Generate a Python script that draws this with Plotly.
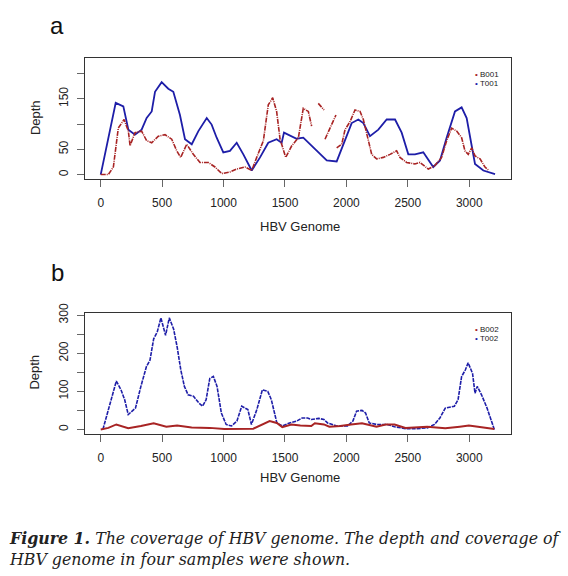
import plotly.graph_objects as go

# ---------------- data ----------------
series_names_a = ["B001", "T001"]
series_names_b = ["B002", "T002"]

T001_x = [0,122,184,225,279,333,374,415,442,496,550,591,645,686,741,795,863,903,944,998,
          1052,1107,1161,1229,1297,1364,1432,1473,1492,1541,1595,1649,1717,1785,1840,1921,1975,2043,2097,2138,
          2192,2260,2328,2396,2450,2504,2558,2626,2707,2762,2816,2884,2938,2979,3020,3047,3115,3210]
T001_y = [0,142,135,89,79,89,112,125,164,183,170,164,118,70,60,86,112,99,73,44,
          47,63,40,8,34,63,70,63,83,78,71,73,57,40,28,26,60,102,109,102,
          76,89,109,109,83,40,40,44,15,28,73,125,133,112,57,21,8,1]

B001_x = [0,62,103,143,190,225,239,279,333,374,415,469,523,578,619,651,700,754,808,876,
          930,985,1052,1107,1175,1229,1270,1324,1364,1400,1432,1460,1506,1555,1609,1649,1690,1717,
          1745,
          1771,1818,
          1822,
          1826,1915,
          1918,
          1921,1962,1989,2030,2070,2111,2138,2165,2206,2246,2300,2355,2409,2436,2490,2558,2599,2667,2721,2775,
          2816,2857,2898,2938,2965,2992,3020,3047,3088,3128,3160]
B001_y = [0,0,15,92,109,86,57,83,86,67,63,76,79,70,47,34,60,40,24,24,
          15,2,5,11,15,8,34,67,138,152,125,70,34,57,73,131,125,96,
          None,
          141,128,
          None,
          70,118,
          None,
          53,60,89,105,128,125,109,79,40,31,34,40,47,34,24,21,24,11,18,34,
          67,92,86,73,47,40,53,37,31,15,8]

T002_x = [18,62,127,165,195,224,283,327,372,401,431,460,490,528,558,593,622,652,681,711,
          755,800,829,858,888,917,947,982,1021,1065,1109,1148,1198,1227,1271,1316,1360,1389,1434,1478,
          1537,1596,1640,1684,1714,1773,1817,1847,1920,2009,2053,2083,2127,2156,2186,2245,2333,2392,2481,2569,
          2658,2717,2761,2805,2879,2909,2938,2968,2991,3027,3047,3065,3100,3145,3204]
T002_y = [0,52,127,104,78,39,56,113,165,182,238,256,293,247,293,264,217,156,113,91,
          87,69,61,78,134,139,113,43,13,9,22,61,52,13,52,104,100,78,17,9,
          17,22,30,30,26,29,26,17,9,9,22,48,50,43,17,13,13,7,2,2,
          4,13,30,56,61,78,139,156,175,147,95,113,91,56,0]

B002_x = [0,62,127,224,327,431,534,622,740,888,1006,1242,1375,1434,1478,1552,1625,1714,1743,1817,
          1861,1950,2038,2127,2245,2319,2392,2481,2658,2805,2923,2997,3071,3204]
B002_y = [0,4,13,3,9,16,7,10,5,4,1,2,22,17,6,13,10,9,16,13,
          7,9,13,16,7,13,13,4,7,3,7,10,7,1]

x_ticks = [0, 500, 1000, 1500, 2000, 2500, 3000]
ya_ticks = [0, 50, 100, 150, 200]
ya_labels = ["0", "50", "", "150", ""]
yb_ticks = [0, 50, 100, 150, 200, 250, 300]
yb_labels = ["0", "", "100", "", "200", "", "300"]

panel_labels = ["a", "b"]
x_title = "HBV Genome"
y_title = "Depth"
caption_1 = "<b>Figure 1.</b> The coverage of HBV genome. The depth and coverage of"
caption_2 = "HBV genome in four samples were shown."

# ---------------- style ----------------
RED = "#A82424"
BLUE = "#1E1EA8"
W, H = 568, 576
SANS = "Liberation Sans, Arial, sans-serif"


def px(x):
    return x / W


def py(y):
    return 1 - y / H


fig = go.Figure()
fig.add_trace(go.Scatter(x=T001_x, y=T001_y, mode="lines", name=series_names_a[1],
                         line=dict(color=BLUE, width=1.8), xaxis="x", yaxis="y", showlegend=False,
                         connectgaps=False))
fig.add_trace(go.Scatter(x=B001_x, y=B001_y, mode="lines", name=series_names_a[0],
                         line=dict(color=RED, width=1.6, dash="5px,1px,1px,1px"), xaxis="x", yaxis="y",
                         showlegend=False, connectgaps=False))
fig.add_trace(go.Scatter(x=T002_x, y=T002_y, mode="lines", name=series_names_b[1],
                         line=dict(color=BLUE, width=1.6, dash="4px,1px"), xaxis="x2", yaxis="y2",
                         showlegend=False))
fig.add_trace(go.Scatter(x=B002_x, y=B002_y, mode="lines", name=series_names_b[0],
                         line=dict(color=RED, width=2), xaxis="x2", yaxis="y2", showlegend=False))

xdom = [px(85), px(511)]
common_x = dict(domain=xdom, range=[-128, 3340], tickvals=x_ticks, showline=True, mirror=True,
                linecolor="#333", linewidth=1, ticks="outside", ticklen=7, tickcolor="#666",
                tickfont=dict(family=SANS, size=12, color="#222"), showgrid=False, zeroline=False,
                ticklabelstandoff=6)
common_y = dict(showline=True, mirror=True, linecolor="#333", linewidth=1, ticks="outside",
                ticklen=7, tickcolor="#666", tickangle=-90,
                tickfont=dict(family=SANS, size=12, color="#222"), showgrid=False, zeroline=False,
                ticklabelstandoff=4)

fig.update_layout(
    width=W, height=H, autosize=False,
    margin=dict(l=0, r=0, t=0, b=0),
    paper_bgcolor="white", plot_bgcolor="white",
    xaxis=dict(anchor="y", **common_x),
    yaxis=dict(anchor="x", domain=[py(172), py(49)], range=[-8.8, 230.5],
               tickvals=ya_ticks, ticktext=ya_labels, **common_y),
    xaxis2=dict(anchor="y2", **common_x),
    yaxis2=dict(anchor="x2", domain=[py(431.3), py(308.3)], range=[-11.6, 306],
                tickvals=yb_ticks, ticktext=yb_labels, **common_y),
)

ann = []
# panel letters
for lab, yy in zip(panel_labels, [16, 267]):
    ann.append(dict(text=lab, x=px(57), y=py(yy), xref="paper", yref="paper", showarrow=False,
                    xanchor="center", yanchor="middle", font=dict(family=SANS, size=24, color="#111")))
# axis titles
for yy in [220, 476]:
    ann.append(dict(text=x_title, x=px(300), y=py(yy), xref="paper", yref="paper", showarrow=False,
                    xanchor="center", yanchor="middle", font=dict(family=SANS, size=13, color="#222")))
for yy in [110, 369]:
    ann.append(dict(text=y_title, x=px(35), y=py(yy), xref="paper", yref="paper", showarrow=False,
                    textangle=-90, xanchor="center", yanchor="middle",
                    font=dict(family=SANS, size=13, color="#222")))
# legends
for names, ys in [(series_names_a, [66, 75.3]), (series_names_b, [324.7, 334.3])]:
    for nm, col, yy in zip(names, [RED, BLUE], ys):
        ann.append(dict(text=f"<span style='color:{col}'>•</span> {nm}", x=px(473), y=py(yy),
                        xref="paper", yref="paper", showarrow=False, xanchor="left", yanchor="middle",
                        font=dict(family=SANS, size=8, color="#222")))
# caption
for txt, yy in [(caption_1, 538), (caption_2, 559)]:
    ann.append(dict(text=f"<i>{txt}</i>", x=px(7), y=py(yy), xref="paper", yref="paper",
                    showarrow=False, xanchor="left", yanchor="middle",
                    font=dict(family="DejaVu Serif, serif", size=15.8, color="#222")))
fig.update_layout(annotations=ann)

fig.write_html("out.html", config={"displayModeBar": False},
               post_script="document.body.style.margin='0';")
